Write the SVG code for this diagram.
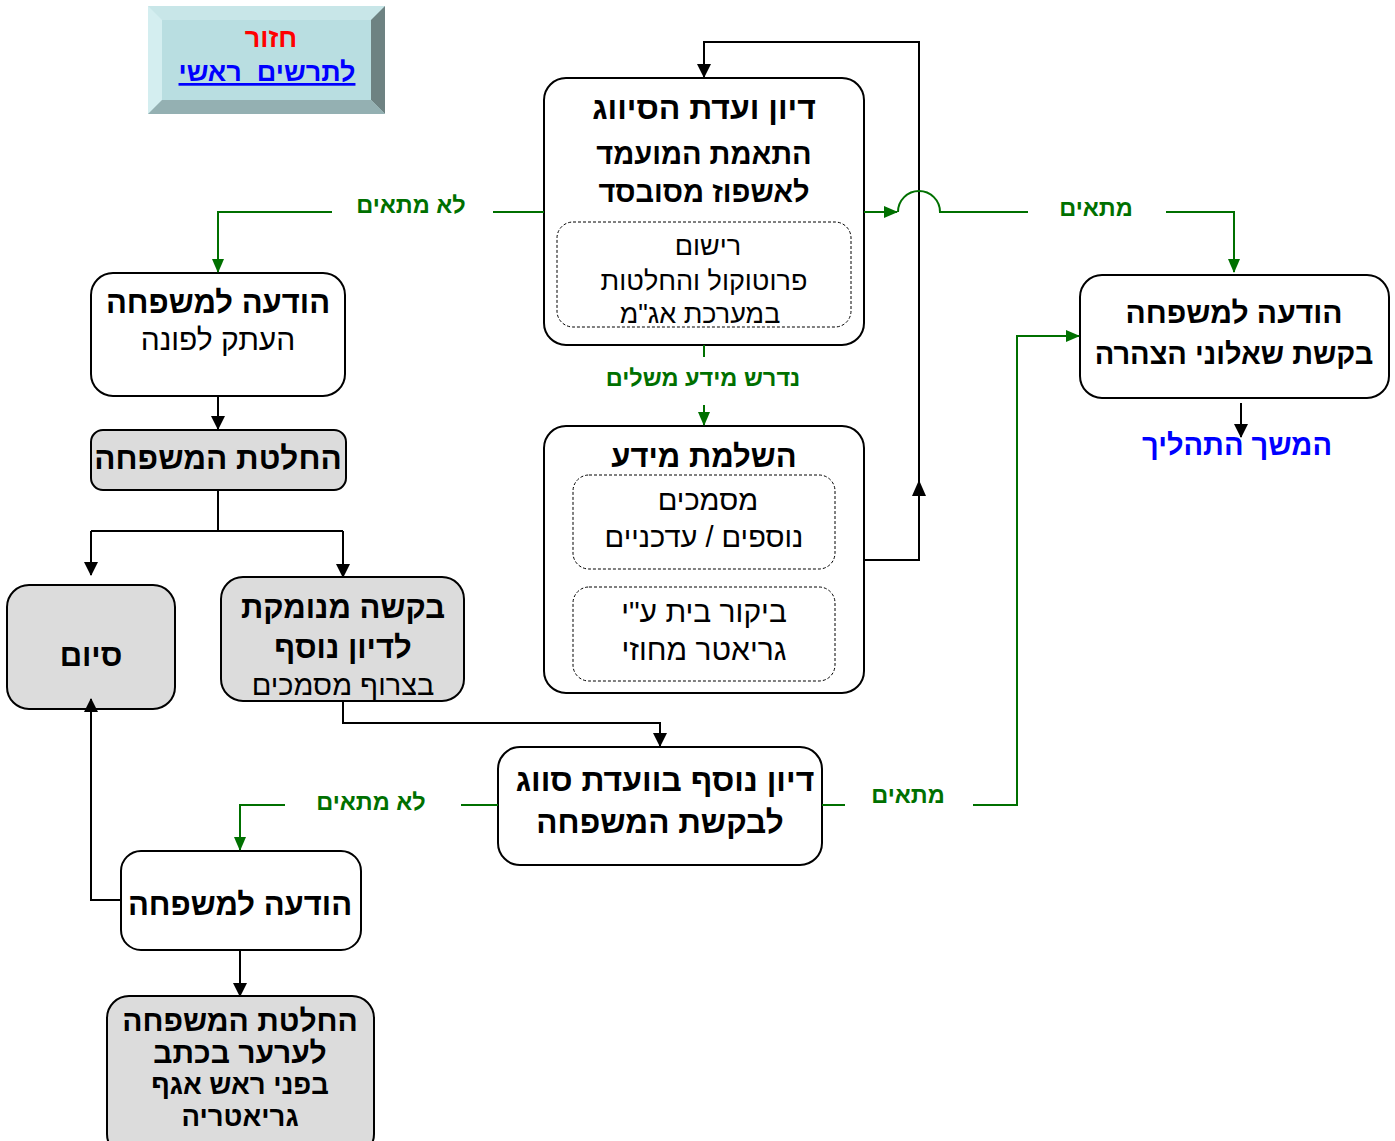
<svg xmlns="http://www.w3.org/2000/svg" width="1395" height="1141" viewBox="0 0 1395 1141">
<style>
text{font-family:"Liberation Sans","Noto Sans",sans-serif;direction:rtl;text-anchor:middle}
.b{font-weight:bold;font-size:31px;fill:#000}
.r{font-size:29px;fill:#000}
.g{font-weight:bold;font-size:23.5px;fill:#007000}
.box{fill:#fff;stroke:#000;stroke-width:2}
.gbox{fill:#dcdcdc;stroke:#000;stroke-width:2}
.dash{fill:none;stroke:#000;stroke-width:1;stroke-dasharray:3 2}
.k{fill:none;stroke:#000;stroke-width:2}
.gl{fill:none;stroke:#007000;stroke-width:2}
</style>
<defs>
<marker id="ak2" markerWidth="14" markerHeight="14" refX="13" refY="7" orient="auto" markerUnits="userSpaceOnUse" viewBox="0 0 14 14"><path d="M0,0 L14,7 L0,14 z" fill="#000"/></marker>
<marker id="ag2" markerWidth="14" markerHeight="12" refX="13" refY="6" orient="auto" markerUnits="userSpaceOnUse" viewBox="0 0 14 12"><path d="M0,0 L14,6 L0,12 z" fill="#007000"/></marker>
</defs>

<g id="btn-back">
<rect x="148" y="6" width="237" height="108" fill="#c8e6e8"/>
<polygon points="148,6 162,20 162,100 148,114" fill="#d4eef0"/>
<polygon points="385,6 371,20 371,100 385,114" fill="#6e8282"/>
<polygon points="148,114 162,100 371,100 385,114" fill="#94b0b2"/>
<rect x="162" y="20" width="209" height="80" fill="#b9dee1"/>
<text x="271" y="47" style="font-weight:bold;font-size:27px;fill:#ff0000">חזור</text>
<text x="267" y="81" xml:space="preserve" style="font-weight:bold;font-size:27px;fill:#0000ff;text-decoration:underline">לתרשים  ראשי</text>
</g>

<g id="n-committee">
<rect class="box" x="544" y="78" width="320" height="267" rx="22"/>
<text class="b" x="704" y="119" style="font-size:32px">דיון ועדת הסיווג</text>
<text class="b" x="704" y="164" style="font-size:29px">התאמת המועמד</text>
<text class="b" x="704" y="202" style="font-size:29px">לאשפוז מסובסד</text>
<rect class="dash" x="557" y="222" width="294" height="105" rx="16"/>
<text class="r" x="708" y="255" style="font-size:27px">רישום</text>
<text class="r" x="704" y="290" style="font-size:27px">פרוטוקול והחלטות</text>
<text class="r" x="700" y="323" style="font-size:27px">במערכת אג"מ</text>
</g>

<g id="n-info">
<rect class="box" x="544" y="426" width="320" height="267" rx="22"/>
<text class="b" x="704" y="467">השלמת מידע</text>
<rect class="dash" x="573" y="475" width="262" height="94" rx="16"/>
<text class="r" x="708" y="510">מסמכים</text>
<text class="r" x="704" y="547">נוספים / עדכניים</text>
<rect class="dash" x="573" y="587" width="262" height="94" rx="16"/>
<text class="r" x="704" y="622" style="font-size:30px">ביקור בית ע"י</text>
<text class="r" x="704" y="660" style="font-size:30px">גריאטר מחוזי</text>
</g>

<g id="n-notify-right">
<rect class="box" x="1080" y="275" width="309" height="123" rx="22"/>
<text class="b" x="1234" y="323" style="font-size:30px">הודעה למשפחה</text>
<text class="b" x="1234" y="364" style="font-size:29px">בקשת שאלוני הצהרה</text>
</g>

<g id="n-continue">
<text x="1237" y="455" style="font-weight:bold;font-size:29px;fill:#0000ff">המשך התהליך</text>
</g>

<g id="n-notify-left">
<rect class="box" x="91" y="273" width="254" height="123" rx="22"/>
<text class="b" x="218" y="313">הודעה למשפחה</text>
<text class="r" x="218" y="350" style="font-size:30px">העתק לפונה</text>
</g>

<g id="n-decision">
<rect class="gbox" x="91" y="430" width="255" height="60" rx="12"/>
<text class="b" x="218" y="469" style="font-size:31.5px">החלטת המשפחה</text>
</g>

<g id="n-end">
<rect class="gbox" x="7" y="585" width="168" height="124" rx="22"/>
<text class="b" x="91" y="666">סיום</text>
</g>

<g id="n-request">
<rect class="gbox" x="221" y="577" width="243" height="124" rx="22"/>
<text class="b" x="343" y="618">בקשה מנומקת</text>
<text class="b" x="343" y="658">לדיון נוסף</text>
<text class="r" x="343" y="695">בצרוף מסמכים</text>
</g>

<g id="n-rediscuss">
<rect class="box" x="498" y="747" width="324" height="118" rx="22"/>
<text class="b" x="665" y="791" style="font-size:32px">דיון נוסף בוועדת סווג</text>
<text class="b" x="660" y="833" style="font-size:31.5px">לבקשת המשפחה</text>
</g>

<g id="n-notify-bottom">
<rect class="box" x="121" y="851" width="240" height="99" rx="20"/>
<text class="b" x="240" y="915">הודעה למשפחה</text>
</g>

<g id="n-appeal">
<rect class="gbox" x="107" y="996" width="267" height="160" rx="22"/>
<text class="b" x="240" y="1031" style="font-size:30px">החלטת המשפחה</text>
<text class="b" x="240" y="1063" style="font-size:30px">לערער בכתב</text>
<text class="b" x="240" y="1094" style="font-size:27.5px">בפני ראש אגף</text>
<text class="b" x="240" y="1126" style="font-size:27.5px">גריאטריה</text>
</g>

<g id="connectors">
<path class="k" d="M864,560 H919 V42 H704 V77" marker-end="url(#ak2)"/>
<path d="M912,496 L919,480 L926,496 z" fill="#000"/>
<path class="gl" d="M864,212 H897" marker-end="url(#ag2)"/>
<path class="gl" d="M898,212 A20,20 0 0 1 940,212 H1028"/>
<path class="gl" d="M1166,212 H1234 V272" marker-end="url(#ag2)"/>
<path class="gl" d="M544,212 H493"/>
<path class="gl" d="M332,212 H218 V272" marker-end="url(#ag2)"/>
<path class="gl" d="M704,345 V357"/>
<path class="gl" d="M704,405 V425" marker-end="url(#ag2)"/>
<path class="k" d="M218,396 V429" marker-end="url(#ak2)"/>
<path class="k" d="M218,490 V531 M91,531 H343"/>
<path class="k" d="M91,531 V575" marker-end="url(#ak2)"/>
<path class="k" d="M343,531 V577" marker-end="url(#ak2)"/>
<path class="k" d="M343,701 V723 H660 V746" marker-end="url(#ak2)"/>
<path class="gl" d="M498,805 H461"/>
<path class="gl" d="M285,805 H240 V850" marker-end="url(#ag2)"/>
<path class="gl" d="M822,805 H845"/>
<path class="gl" d="M973,805 H1017 V336 H1079" marker-end="url(#ag2)"/>
<path class="k" d="M121,900 H91 V699" marker-end="url(#ak2)"/>
<path class="k" d="M240,950 V996" marker-end="url(#ak2)"/>
<path class="k" d="M1241,403 V437" marker-end="url(#ak2)"/>
<text class="g" x="411" y="213">לא מתאים</text>
<text class="g" x="1096" y="216">מתאים</text>
<text class="g" x="703" y="386">נדרש מידע משלים</text>
<text class="g" x="371" y="810">לא מתאים</text>
<text class="g" x="908" y="803">מתאים</text>
</g>
</svg>
